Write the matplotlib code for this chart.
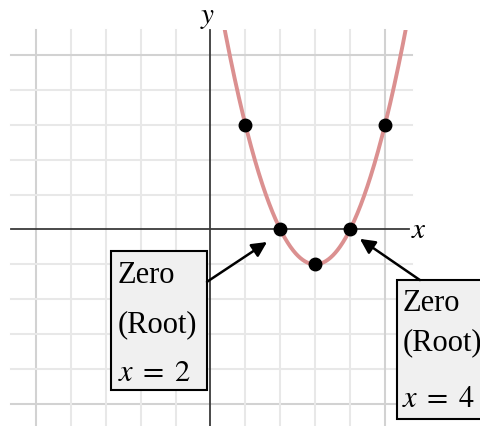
import numpy as np
import matplotlib
matplotlib.use("Agg")
import matplotlib.pyplot as plt
from matplotlib.patches import Rectangle

plt.rcParams['mathtext.fontset'] = 'stix'

# ---- data ----
poly_coeffs = [1, -6, 8]          # y = x^2 - 6x + 8 = (x-2)(x-4)
point_x = [1, 2, 3, 4, 5]
point_y = [3, 0, -1, 0, 3]
grid_ticks = [-5, -4, -3, -2, -1, 0, 1, 2, 3, 4, 5]
root_labels = ["Zero", "(Root)"]
root_values = [2, 4]

# ---- figure ----
W, H = 481, 427
fig = plt.figure(figsize=(W / 100, H / 100), dpi=100)
ax = fig.add_axes([0, 0, 1, 1])
ax.set_xlim(-6.03, 7.75)
ax.set_ylim(-5.63, 6.60)
ax.axis('off')

gx0, gx1 = -5.72, 5.77
gy0, gy1 = -5.70, 5.72

for t in grid_ticks:
    if t == 0:
        continue
    c = '#d2d2d2' if abs(t) == 5 else '#e8e8e8'
    ax.plot([t, t], [gy0, gy1], color=c, lw=1.5, zorder=1)
    ax.plot([gx0, gx1], [t, t], color=c, lw=1.5, zorder=1)

# axes
ax.plot([gx0, 5.70], [0, 0], color='#3a3a3a', lw=1.3, zorder=2)
ax.plot([0, 0], [gy0, gy1], color='#3a3a3a', lw=1.3, zorder=2)
ax.text(5.75, 0, r'$x$', fontsize=21, va='center', ha='left')
ax.text(-0.07, 5.70, r'$y$', fontsize=21, va='bottom', ha='center')

# curve
xs = np.linspace(0.3, 5.7, 400)
ys = np.polyval(poly_coeffs, xs)
curve, = ax.plot(xs, ys, color='#db9090', lw=2.8, zorder=3, solid_capstyle='butt')
curve.set_clip_path(Rectangle((gx0, gy0), gx1 - gx0, gy1 - gy0, transform=ax.transData))

ax.plot(point_x, point_y, 'o', color='black', ms=9, zorder=5)

# annotation boxes
boxes = [
    dict(rect=(-2.85, -4.60, 2.75, 3.98), tx=-2.65, ty=[-1.28, -2.71, -4.08],
         arrow_from=(-0.10, -1.50), arrow_to=(1.62, -0.36)),
    dict(rect=(5.34, -5.43, 3.0, 3.98), tx=5.50, ty=[-2.08, -3.22, -4.80],
         arrow_from=(6.0, -1.45), arrow_to=(4.28, -0.27)),
]
for b, rv in zip(boxes, root_values):
    x0, y0, w, h = b['rect']
    ax.add_patch(Rectangle((x0, y0), w, h, facecolor='#f0f0f0', edgecolor='black',
                           lw=1.5, zorder=6))
    for lab, yy in zip(root_labels, b['ty'][:2]):
        ax.text(b['tx'], yy, lab, fontsize=22, family='Liberation Serif',
                va='center', ha='left', zorder=7)
    ax.text(b['tx'], b['ty'][2], r'$x\;=\;%d$' % rv, fontsize=22, va='center', ha='left', zorder=7)
    ax.annotate('', xy=b['arrow_to'], xytext=b['arrow_from'],
                arrowprops=dict(arrowstyle='-|>,head_length=0.9,head_width=0.45',
                                color='black', lw=1.8, shrinkA=0, shrinkB=0),
                zorder=7)

fig.savefig('out.png', dpi=100)
